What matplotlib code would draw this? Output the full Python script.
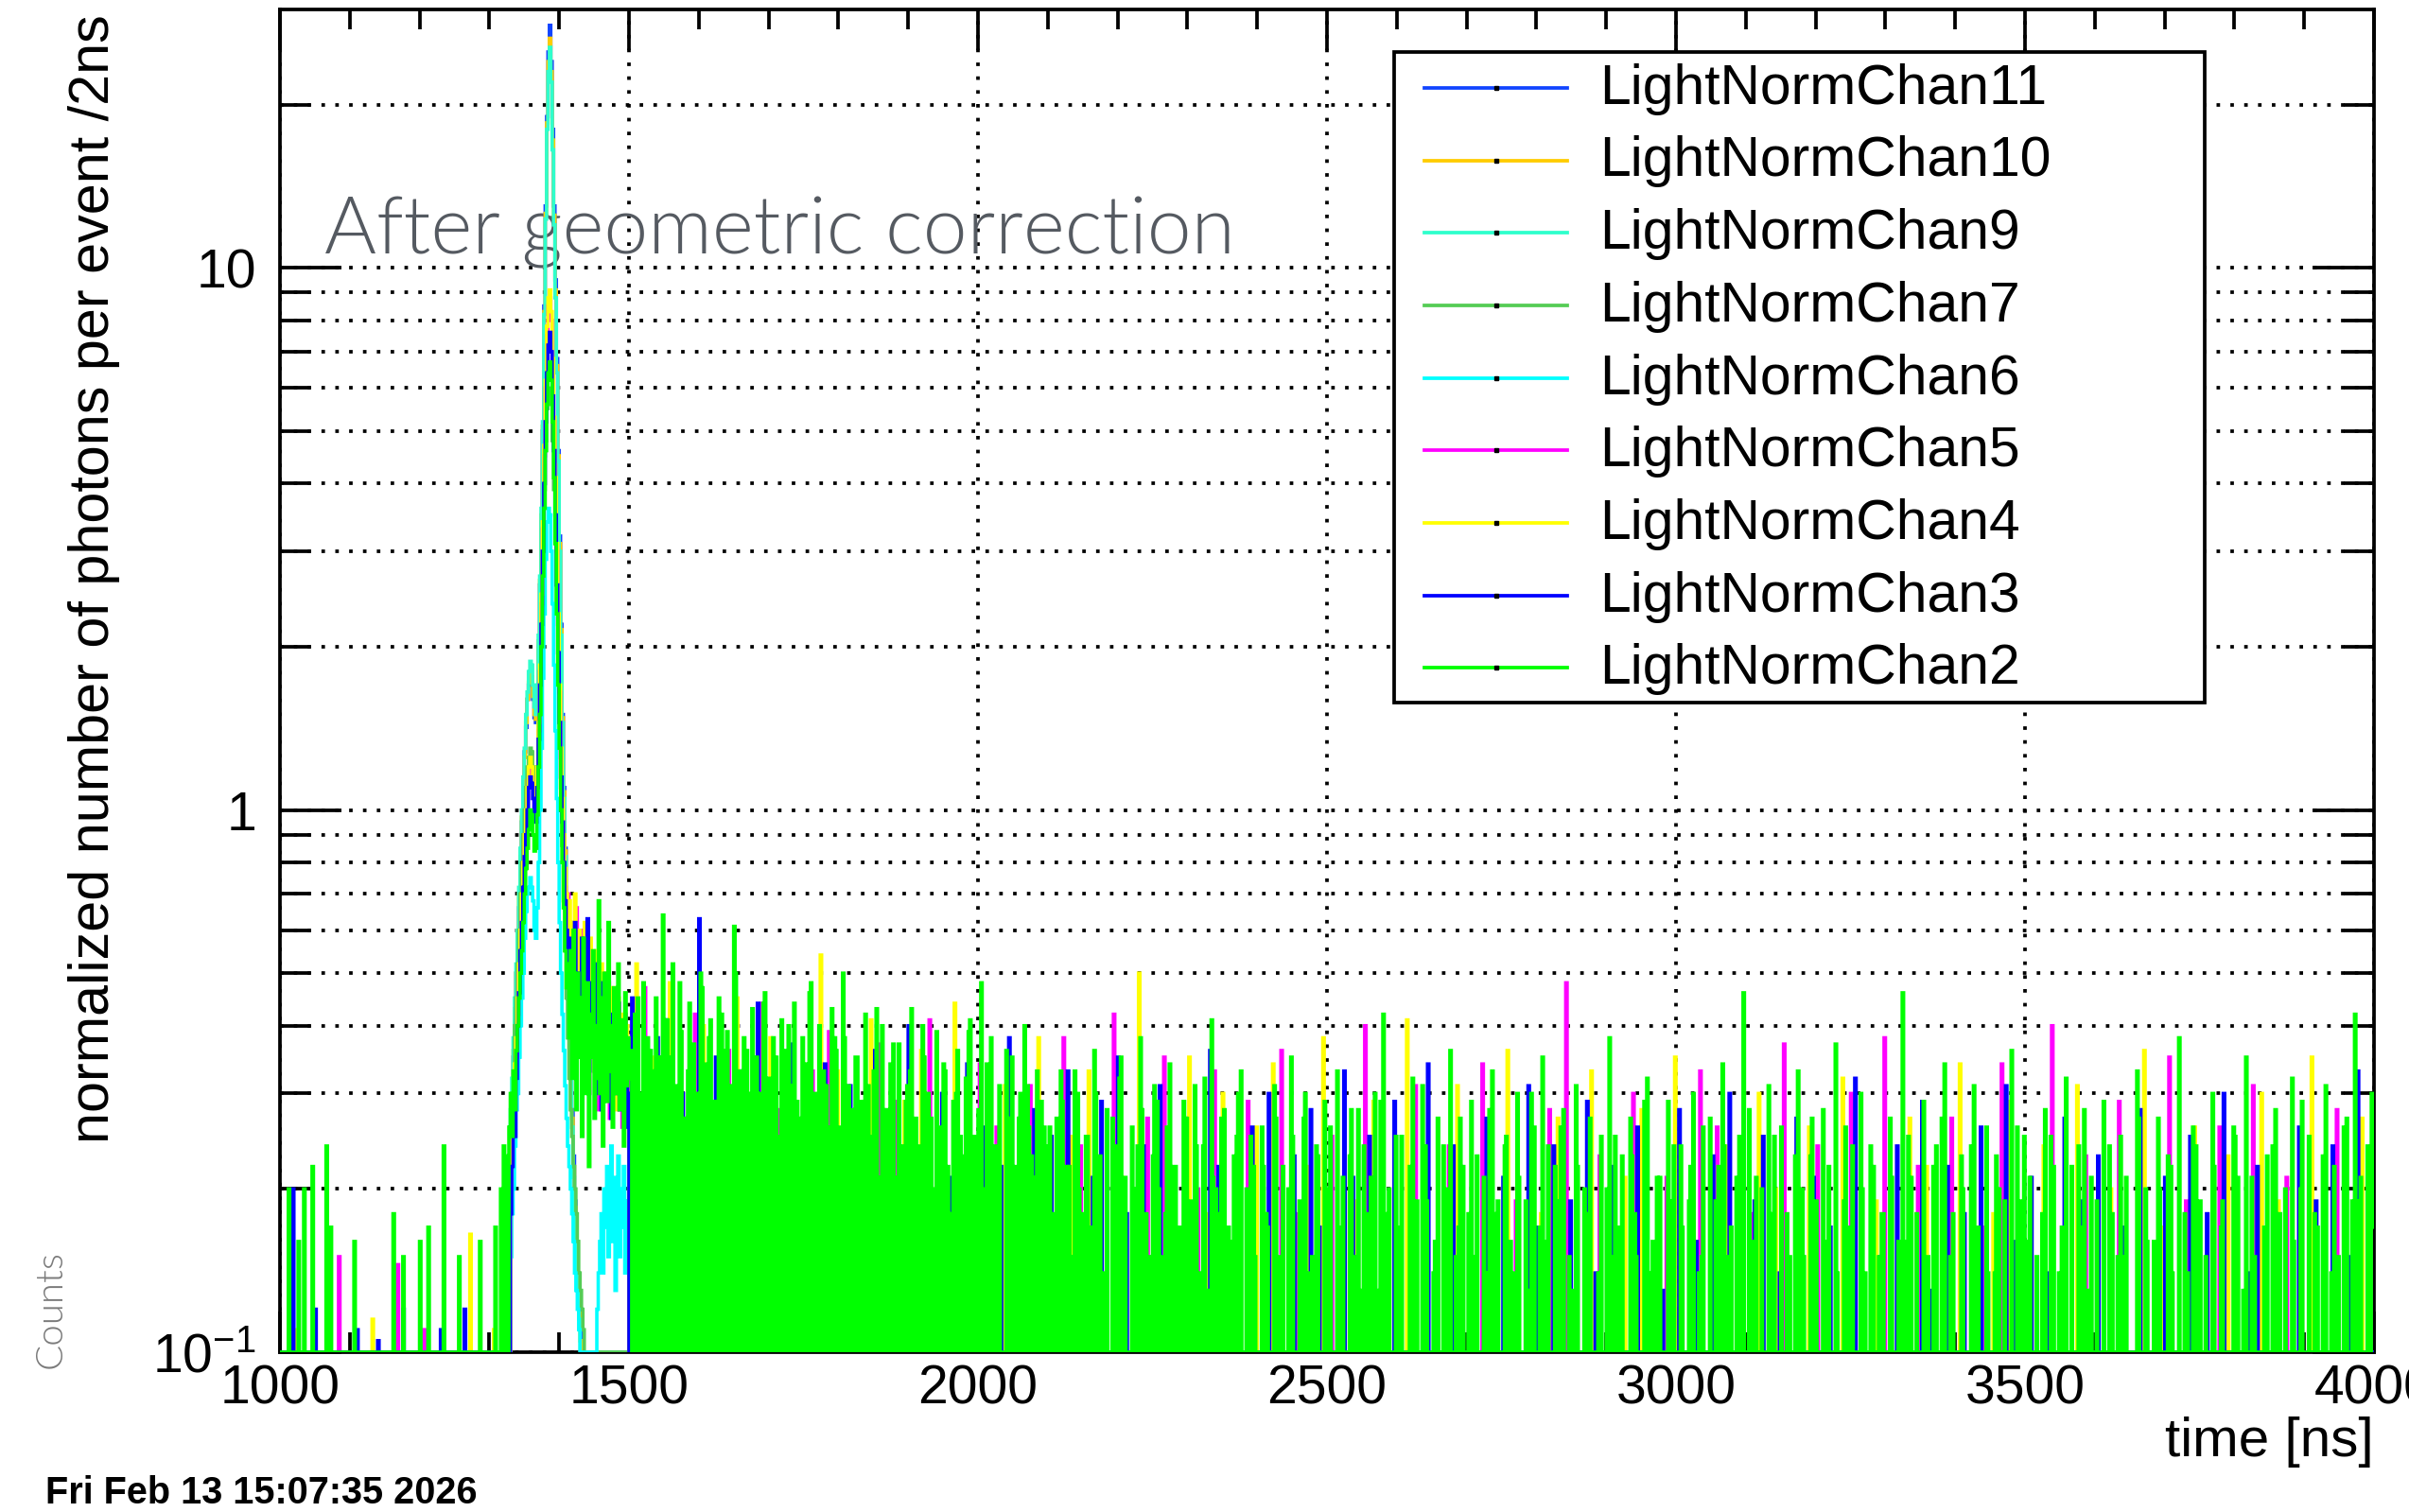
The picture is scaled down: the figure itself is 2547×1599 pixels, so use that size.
import numpy as np
import matplotlib
matplotlib.use("Agg")
import matplotlib.pyplot as plt
from matplotlib.lines import Line2D
from matplotlib.patches import Rectangle
from matplotlib.ticker import MultipleLocator, FixedLocator, FixedFormatter

plt.rcParams['font.family'] = ['Liberation Sans', 'DejaVu Sans']
plt.rcParams['mathtext.fontset'] = 'custom'
plt.rcParams['mathtext.rm'] = 'Liberation Sans'
plt.rcParams['mathtext.it'] = 'Liberation Sans:italic'
plt.rcParams['mathtext.bf'] = 'Liberation Sans:bold'

# =====================================================================================================================
# data: 2 ns bins from 1000 to 4000 ns, values = normalized photons per event

T_MIN, T_MAX, BIN_WIDTH = 1000.0, 4000.0, 2.0
PEAK_START = 1330.0
FLOOR = 0.1

CHANNELS = ["LightNormChan11", "LightNormChan10", "LightNormChan9", "LightNormChan7", "LightNormChan6",
            "LightNormChan5", "LightNormChan4", "LightNormChan3", "LightNormChan2"]
COLORS = ["#1144ff", "#ffcc00", "#2effcc", "#55cc55", "#00ffff", "#ff00ff", "#ffff00", "#0000ff", "#00ff00"]

# sparse hits before the prompt peak (ns, value)
CH2_PRE_T = [1012, 1026, 1034, 1047, 1066, 1073, 1106, 1163, 1177, 1200, 1213, 1234, 1256, 1286, 1308, 1316, 1320,
             1324, 1328]
CH2_PRE_V = [0.20, 0.16, 0.20, 0.22, 0.24, 0.17, 0.16, 0.18, 0.15, 0.16, 0.17, 0.24, 0.15, 0.16, 0.17, 0.20, 0.24,
             0.23, 0.26]
CH3_PRE_T = [1018, 1050, 1110, 1140, 1176, 1230, 1264]
CH3_PRE_V = [0.20, 0.12, 0.11, 0.105, 0.12, 0.11, 0.12]
CH4_PRE_T = [1024, 1132, 1272, 1306]
CH4_PRE_V = [0.11, 0.115, 0.165, 0.11]
CH5_PRE_T = [1084, 1168, 1206]
CH5_PRE_V = [0.15, 0.145, 0.11]

# prompt peak, 2 ns bins starting at 1330 ns
CH11_PEAK = [0.22, 0.30, 0.35, 0.41, 0.50, 0.58, 0.66, 0.80, 0.95, 1.10,
             1.28, 1.42, 1.60, 1.70, 1.78, 1.72, 1.60, 1.48, 1.45, 1.62,
             2.00, 2.60, 3.40, 5.00, 8.50, 13.0, 19.0, 25.0, 28.0, 24.0,
             18.0, 13.0, 9.50, 6.80, 4.60, 3.20, 2.20, 1.50, 1.10, 0.85,
             0.66, 0.52, 0.42, 0.34, 0.28, 0.23, 0.19, 0.16, 0.14, 0.12,
             0.11, 0.10, 0.09, 0.08, 0.07, 0.06, 0.05, 0.04, 0.03, 0.02]
CH10_PEAK = [0.25, 0.29, 0.36, 0.43, 0.50, 0.60, 0.70, 0.82, 0.97, 1.10,
             1.25, 1.45, 1.60, 1.72, 1.80, 1.76, 1.62, 1.50, 1.47, 1.66,
             2.05, 2.65, 3.50, 5.10, 8.30, 12.6, 18.5, 24.0, 26.5, 23.0,
             17.2, 12.5, 9.10, 6.60, 4.50, 3.10, 2.15, 1.48, 1.08, 0.84,
             0.65, 0.51, 0.41, 0.33, 0.27, 0.22, 0.185, 0.155, 0.135, 0.118,
             0.105, 0.095, 0.085, 0.075, 0.065, 0.055, 0.045, 0.035, 0.025, 0.015]
CH9_PEAK = [0.28, 0.32, 0.38, 0.45, 0.52, 0.60, 0.72, 0.85, 1.00, 1.15,
            1.30, 1.50, 1.65, 1.80, 1.88, 1.85, 1.70, 1.55, 1.50, 1.70,
            2.10, 2.70, 3.60, 5.20, 8.20, 12.3, 18.0, 23.0, 25.5, 22.0,
            16.5, 12.0, 8.80, 6.40, 4.40, 3.00, 2.10, 1.45, 1.05, 0.82,
            0.64, 0.50, 0.40, 0.32, 0.26, 0.21, 0.18, 0.15, 0.13, 0.115,
            0.10, 0.09, 0.08, 0.07, 0.06, 0.05, 0.04, 0.03, 0.02, 0.01]
CH7_PEAK = [0.25, 0.30, 0.28, 0.40, 0.45, 0.52, 0.60, 0.70, 0.80, 0.90,
            1.00, 1.10, 1.20, 1.25, 1.30, 1.28, 1.20, 1.10, 1.05, 1.20,
            1.45, 1.80, 2.30, 3.00, 3.90, 4.80, 5.50, 5.90, 6.00, 5.60,
            4.80, 3.90, 3.10, 2.40, 1.85, 1.40, 1.10, 0.86, 0.68, 0.55,
            0.45, 0.38, 0.32, 0.28, 0.25, 0.22, 0.20, 0.18, 0.16, 0.14,
            0.13, 0.12, 0.11, 0.10, 0.09, 0.08, 0.07, 0.06, 0.05, 0.04]
CH6_PEAK = [0.15, 0.18, 0.20, 0.24, 0.28, 0.30, 0.35, 0.40, 0.45, 0.50,
            0.58, 0.65, 0.70, 0.72, 0.75, 0.72, 0.68, 0.60, 0.58, 0.66,
            0.80, 1.00, 1.30, 1.75, 2.30, 2.90, 3.40, 3.60, 3.50, 3.00,
            2.40, 1.85, 1.40, 1.05, 0.80, 0.62, 0.50, 0.42, 0.36, 0.31,
            0.27, 0.24, 0.22, 0.20, 0.18, 0.16, 0.14, 0.13, 0.12, 0.11,
            0.10, 0.09, 0.08, 0.07, 0.06, 0.05, 0.04, 0.03, 0.04, 0.06,
            0.08, 0.10, 0.12, 0.14, 0.16, 0.18, 0.14, 0.20, 0.17, 0.22,
            0.15, 0.19, 0.24, 0.16, 0.21, 0.13, 0.18, 0.23, 0.15, 0.20,
            0.17, 0.22, 0.14, 0.19, 0.16]
CH5_PEAK = [0.20, 0.25, 0.30, 0.28, 0.35, 0.42, 0.50, 0.55, 0.65, 0.75,
            0.85, 0.95, 1.05, 1.15, 1.20, 1.18, 1.10, 1.00, 1.00, 1.15,
            1.40, 1.80, 2.40, 3.30, 4.50, 6.00, 7.50, 8.50, 8.80, 8.00,
            6.60, 5.20, 4.00, 3.00, 2.20, 1.65, 1.25, 1.00, 0.85, 0.72,
            0.66, 0.70, 0.55, 0.62, 0.48, 0.58, 0.42, 0.66, 0.50, 0.38,
            0.55, 0.44, 0.60, 0.36, 0.50, 0.42, 0.30, 0.55, 0.38, 0.47,
            0.33, 0.52, 0.40, 0.28, 0.45, 0.36, 0.50, 0.30, 0.42, 0.34,
            0.48, 0.27, 0.40, 0.35, 0.45, 0.29, 0.38, 0.44, 0.31, 0.40,
            0.26, 0.36, 0.42, 0.30, 0.38]
CH4_PEAK = [0.22, 0.26, 0.30, 0.34, 0.38, 0.45, 0.52, 0.60, 0.70, 0.80,
            0.90, 1.00, 1.10, 1.20, 1.25, 1.20, 1.12, 1.05, 1.02, 1.20,
            1.45, 1.85, 2.50, 3.40, 4.70, 6.20, 7.80, 8.80, 9.10, 8.30,
            6.80, 5.30, 4.10, 3.10, 2.30, 1.70, 1.30, 1.05, 0.90, 0.78,
            0.70, 0.60, 0.68, 0.50, 0.62, 0.45, 0.70, 0.52, 0.40, 0.60,
            0.48, 0.56, 0.38, 0.62, 0.45, 0.50, 0.35, 0.58, 0.42, 0.48,
            0.33, 0.55, 0.40, 0.46, 0.30, 0.52, 0.38, 0.44, 0.32, 0.50,
            0.36, 0.42, 0.30, 0.47, 0.35, 0.40, 0.28, 0.45, 0.33, 0.38,
            0.42, 0.30, 0.36, 0.40, 0.29]
CH3_PEAK = [0.18, 0.22, 0.27, 0.25, 0.32, 0.40, 0.46, 0.55, 0.62, 0.72,
            0.82, 0.90, 1.00, 1.10, 1.15, 1.12, 1.05, 0.95, 0.95, 1.10,
            1.35, 1.70, 2.20, 3.00, 4.00, 5.20, 6.40, 7.20, 7.60, 7.00,
            5.80, 4.60, 3.50, 2.60, 1.95, 1.45, 1.15, 0.95, 0.80, 0.68,
            0.60, 0.52, 0.58, 0.45, 0.54, 0.40, 0.62, 0.44, 0.36, 0.50,
            0.42, 0.58, 0.34, 0.46, 0.38, 0.63, 0.33, 0.48, 0.40, 0.36,
            0.52, 0.30, 0.44, 0.38, 0.48, 0.28, 0.40, 0.34, 0.45, 0.30,
            0.38, 0.42, 0.27, 0.36, 0.40, 0.30, 0.35, 0.44, 0.28, 0.38,
            0.32, 0.40, 0.26, 0.36, 0.30]
CH2_PEAK = [0.30, 0.25, 0.33, 0.28, 0.36, 0.40, 0.45, 0.50, 0.55, 0.62,
            0.70, 0.78, 0.85, 0.92, 1.00, 0.98, 0.90, 0.84, 0.85, 0.98,
            1.20, 1.50, 2.00, 2.70, 3.60, 4.60, 5.60, 6.40, 6.70, 6.20,
            5.20, 4.10, 3.10, 2.30, 1.70, 1.30, 1.00, 0.80, 0.66, 0.55,
            0.47, 0.52, 0.38, 0.55, 0.32, 0.60, 0.42, 0.28, 0.50, 0.35,
            0.45, 0.25, 0.58, 0.38, 0.30, 0.48, 0.22, 0.42, 0.35, 0.55,
            0.27, 0.40, 0.32, 0.68, 0.30, 0.45, 0.24, 0.50, 0.36, 0.29,
            0.62, 0.33, 0.40, 0.26, 0.47, 0.35, 0.30, 0.52, 0.28, 0.41,
            0.34, 0.24, 0.46, 0.31, 0.38]

# late light, single 2 ns bins on a coarser grid (values x100, 0 = empty bin)
CH2_TAIL_START, CH2_TAIL_STEP = 1500, 6
CH2_TAIL = [32, 18, 45, 22, 28, 36, 19, 35, 64, 41, 16, 29, 48, 21, 33, 17, 26, 50, 23, 38, 15, 27, 42, 20, 31,
            61, 18, 25, 36, 22, 14, 30, 44, 19, 27, 35, 16, 24, 40, 21, 29, 17, 33, 46, 20, 26, 0, 31, 22, 38,
            24, 50, 19, 28, 35, 16, 0, 31, 22, 43, 18, 26, 14, 37, 21, 0, 29, 33, 17, 24, 40, 15, 27, 20, 0,
            34, 22, 18, 30, 25, 13, 39, 21, 0, 48, 16, 32, 24, 19, 0, 36, 22, 15, 27, 18, 31, 23, 20, 0, 26,
            19, 0, 27, 33, 15, 22, 0, 30, 18, 25, 0, 36, 21, 14, 28, 0, 24, 32, 17, 0, 26, 20, 38, 0, 15,
            23, 29, 0, 18, 34, 22, 0, 16, 27, 19, 31, 0, 24, 13, 41, 20, 0, 28, 17, 0, 25, 33, 0, 19, 22,
            0, 26, 18, 0, 31, 14, 22, 0, 35, 0, 19, 27, 0, 15, 24, 0, 29, 20, 0, 33, 17, 0, 23, 0, 28,
            13, 0, 21, 30, 0, 42, 18, 0, 25, 16, 0, 0, 32, 19, 0, 24, 0, 14, 27, 0, 20, 36, 0, 17, 22,
            0, 29, 15, 0, 21, 0, 33, 18, 0, 24, 0, 14, 30, 0, 19, 0, 26, 0, 35, 16, 0, 22, 0, 28, 0,
            13, 31, 0, 20, 17, 0, 0, 25, 0, 38, 15, 0, 23, 0, 27, 18, 0, 0, 32, 14, 0, 21, 0, 29, 16,
            0, 24, 0, 19, 30, 0, 15, 0, 27, 0, 22, 34, 0, 17, 0, 25, 46, 0, 14, 21, 0, 0, 31, 18, 0,
            26, 0, 15, 0, 33, 20, 0, 23, 0, 0, 28, 16, 0, 37, 0, 19, 0, 24, 0, 30, 14, 0, 22, 0, 18,
            0, 27, 0, 16, 46, 0, 21, 0, 0, 29, 15, 0, 24, 0, 34, 0, 18, 0, 23, 0, 0, 31, 17, 0, 26,
            0, 14, 20, 0, 0, 36, 0, 19, 25, 0, 0, 15, 0, 28, 0, 22, 0, 17, 32, 0, 0, 24, 0, 13, 21,
            0, 0, 29, 0, 18, 0, 25, 15, 0, 0, 33, 0, 20, 0, 16, 27, 0, 0, 22, 0, 38, 0, 14, 0, 24,
            19, 0, 0, 30, 0, 17, 0, 0, 26, 21, 0, 35, 0, 15, 0, 0, 23, 0, 28, 18, 0, 0, 32, 0, 20,
            0, 25, 0, 17, 0, 31, 0, 22, 15, 0, 27, 0, 42, 19, 0, 24, 30]
CH2_TAIL_B_START, CH2_TAIL_B_STEP = 1502, 6
CH2_TAIL_B = [36, 42, 30, 48, 38, 33, 45, 28, 40, 35, 52, 31, 39, 27, 44, 37, 30, 47, 34, 41, 29, 45, 36, 39, 26,
              50, 33, 38, 30, 43, 35, 28, 46, 32, 38, 25, 41, 36, 31, 44, 27, 38, 34, 48, 30, 40, 33, 26, 43, 36,
              26, 38, 31, 23, 35, 29, 42, 25, 33, 21, 40, 28, 34, 0, 37, 24, 31, 43, 27, 22, 35, 30, 19, 39, 26,
              33, 0, 29, 36, 23, 32, 41, 25, 28, 20, 34, 38, 24, 31, 0, 27, 35, 22, 30, 40, 26, 21, 33, 29, 24,
              26, 18, 0, 29, 22, 15, 33, 20, 0, 25, 17, 30, 23, 14, 0, 27, 19, 35, 21, 0, 16, 24, 28, 18, 0,
              31, 20, 15, 26, 0, 22, 17, 29, 0, 19, 24, 14, 32, 0, 21, 18, 27, 0, 16, 23, 30, 0, 20, 25, 15,
              0, 22, 17, 0, 27, 15, 0, 20, 25, 0, 18, 30, 14, 0, 23, 0, 19, 26, 0, 16, 21, 0, 28, 15, 0,
              24, 18, 0, 13, 29, 0, 20, 0, 17, 25, 0, 22, 14, 0, 31, 19, 0, 16, 0, 24, 20, 0, 15, 27, 0,
              18, 0, 23, 0, 14, 28, 0, 19, 0, 25, 16, 0, 21, 0, 13, 30, 0, 17, 0, 24, 0, 19, 26, 0, 15,
              0, 22, 0, 18, 27, 0, 14, 0, 20, 0, 25, 17, 0, 0, 23, 15, 0, 29, 0, 16, 21, 0, 0, 19, 24,
              0, 17, 0, 22, 0, 14, 26, 0, 0, 19, 0, 24, 15, 0, 21, 0, 0, 28, 16, 0, 20, 0, 13, 25, 0,
              0, 18, 0, 23, 0, 15, 0, 27, 19, 0, 0, 22, 0, 14, 0, 26, 17, 0, 0, 20, 0, 24, 0, 15, 18,
              0, 21, 0, 0, 16, 25, 0, 18, 0, 13, 0, 22, 0, 27, 0, 15, 0, 0, 20, 0, 24, 17, 0, 0, 14,
              0, 23, 0, 19, 0, 0, 26, 0, 16, 21, 0, 0, 18, 0, 25, 0, 14, 0, 0, 22, 0, 17, 28, 0, 0,
              19, 0, 0, 24, 0, 15, 0, 21, 0, 0, 27, 0, 16, 0, 0, 20, 0, 23, 14, 0, 0, 18, 0, 26, 0,
              0, 15, 0, 22, 0, 19, 0, 0, 25, 0, 13, 0, 21, 0, 0, 17, 0, 24, 0, 0, 20, 0, 16, 0, 29,
              0, 0, 18, 0, 23, 0, 14, 0, 0, 26, 0, 19, 0, 21, 0, 0, 17]
CH3_TAIL_START, CH3_TAIL_STEP = 1504, 12
CH3_TAIL = [45, 28, 0, 38, 41, 22, 30, 0, 63, 19, 35, 26, 0, 33, 18, 44, 24, 0, 29, 37, 21, 0, 27, 34, 16,
            0, 31, 22, 0, 36, 18, 27, 0, 40, 15, 24, 0, 30, 21, 0, 34, 17, 26, 0, 22, 38, 0, 19, 28, 0,
            25, 0, 33, 16, 0, 21, 29, 0, 35, 18, 0, 24, 0, 31, 20, 0, 27, 15, 0, 36, 22, 0, 18, 0, 26,
            0, 30, 14, 0, 23, 0, 28, 17, 0, 0, 33, 21, 0, 25, 0, 16, 29, 0, 20, 0, 34, 0, 18, 24, 0,
            15, 0, 27, 0, 21, 0, 0, 31, 17, 0, 24, 0, 19, 0, 29, 14, 0, 22, 0, 0, 26, 18, 0, 13, 0,
            28, 0, 16, 0, 23, 0, 30, 0, 0, 19, 25, 0, 14, 0, 27, 0, 21, 0, 17, 0, 0, 32, 0, 20, 15,
            0, 24, 0, 0, 29, 13, 0, 22, 0, 18, 0, 26, 0, 0, 31, 16, 0, 21, 0, 14, 0, 27, 0, 19, 0,
            23, 0, 0, 17, 0, 28, 0, 15, 21, 0, 0, 25, 0, 18, 0, 30, 0, 0, 14, 22, 0, 16, 0, 0, 26,
            0, 19, 0, 24, 0, 15, 33, 0, 21]
CH4_TAIL_START, CH4_TAIL_STEP = 1510, 24
CH4_TAIL = [52, 35, 48, 27, 40, 22, 45, 30, 38, 0, 26, 54,
            33, 24, 41, 0, 29, 36, 19, 44, 0, 27, 31, 22,
            38, 0, 25, 33, 0, 21, 50, 28, 0, 35, 18, 30,
            0, 26, 34, 0, 22, 38, 0, 19, 29, 0, 41, 24,
            0, 31, 0, 23, 36, 0, 18, 27, 0, 33, 0, 21,
            28, 0, 35, 17, 0, 24, 0, 30, 20, 0, 26, 0,
            32, 0, 19, 0, 27, 22, 0, 34, 0, 18, 29, 0,
            24, 0, 31, 0, 20, 0, 36, 17, 0, 26, 0, 23,
            0, 30, 19, 0, 35, 0, 22, 27]
CH5_TAIL_START, CH5_TAIL_STEP = 1522, 24
CH5_TAIL = [47, 30, 0, 42, 25, 36, 0, 44, 28, 0, 33, 39,
            22, 0, 37, 29, 0, 41, 19, 0, 34, 26, 0, 31,
            0, 38, 24, 0, 42, 0, 27, 35, 0, 20, 33, 0,
            29, 0, 36, 18, 0, 25, 0, 40, 22, 0, 31, 0,
            24, 0, 34, 0, 19, 0, 28, 48, 0, 23, 0, 30,
            0, 21, 0, 33, 26, 0, 18, 0, 37, 0, 24, 0,
            30, 0, 38, 0, 22, 0, 27, 0, 17, 34, 0, 0,
            40, 0, 23, 0, 29, 0, 0, 35, 19, 0, 26, 0,
            31, 0, 21, 0, 0, 28, 0, 24]
CH6_TAIL_START, CH6_TAIL_STEP = 1508, 12
CH6_TAIL = [24, 18, 21, 15, 0, 19, 13, 0, 17, 0, 14, 0, 0, 12, 0, 16, 0]

# =====================================================================================================================

edges = np.arange(T_MIN, T_MAX + BIN_WIDTH / 2, BIN_WIDTH)
n_bins = len(edges) - 1


def to_bin(times):
    return ((np.asarray(times, dtype=float) - T_MIN) // BIN_WIDTH).astype(int)


def build_hist(peak, pre_t=(), pre_v=(), tails=()):
    h = np.zeros(n_bins)
    if len(pre_t):
        h[to_bin(pre_t)] = pre_v
    i0 = to_bin([PEAK_START])[0]
    h[i0:i0 + len(peak)] = peak
    for tail, start, step in tails:
        idx = to_bin(start + step * np.arange(len(tail)))
        ok = idx < n_bins
        h[idx[ok]] = np.asarray(tail, dtype=float)[ok] / 100.0
    return np.clip(h, FLOOR, None)


hists = [
    build_hist(CH11_PEAK),
    build_hist(CH10_PEAK),
    build_hist(CH9_PEAK),
    build_hist(CH7_PEAK),
    build_hist(CH6_PEAK, tails=[(CH6_TAIL, CH6_TAIL_START, CH6_TAIL_STEP)]),
    build_hist(CH5_PEAK, CH5_PRE_T, CH5_PRE_V, [(CH5_TAIL, CH5_TAIL_START, CH5_TAIL_STEP)]),
    build_hist(CH4_PEAK, CH4_PRE_T, CH4_PRE_V, [(CH4_TAIL, CH4_TAIL_START, CH4_TAIL_STEP)]),
    build_hist(CH3_PEAK, CH3_PRE_T, CH3_PRE_V, [(CH3_TAIL, CH3_TAIL_START, CH3_TAIL_STEP)]),
    build_hist(CH2_PEAK, CH2_PRE_T, CH2_PRE_V, [(CH2_TAIL, CH2_TAIL_START, CH2_TAIL_STEP),
                                                (CH2_TAIL_B, CH2_TAIL_B_START, CH2_TAIL_B_STEP)]),
]

# =====================================================================================================================

fig = plt.figure(figsize=(25.47, 15.99), dpi=100)
ax = fig.add_axes([0.1162, 0.1057, 0.8693, 0.8883])

for h, c in zip(hists, COLORS):
    ax.stairs(h, edges, baseline=None, color=c, lw=2.6, zorder=3)

ax.set_yscale("log")
ax.set_xlim(T_MIN, T_MAX)
ax.set_ylim(0.1, 30)

ax.xaxis.set_major_locator(MultipleLocator(500))
ax.xaxis.set_minor_locator(MultipleLocator(100))
ax.yaxis.set_major_locator(FixedLocator([0.1, 1, 10]))
ax.yaxis.set_major_formatter(FixedFormatter([r"$10^{-1}$", "1", "10"]))
ax.yaxis.set_minor_locator(FixedLocator([0.2, 0.3, 0.4, 0.5, 0.6, 0.7, 0.8, 0.9,
                                         2, 3, 4, 5, 6, 7, 8, 9, 20]))
ax.yaxis.set_minor_formatter(FixedFormatter([""] * 17))

ax.tick_params(axis="both", which="both", direction="in", top=True, right=True, width=2.7, labelsize=41)
ax.tick_params(axis="y", which="major", length=47, pad=18)
ax.tick_params(axis="y", which="minor", length=23)
ax.tick_params(axis="x", which="major", length=31, pad=9)
ax.tick_params(axis="x", which="minor", length=15)

for sp in ax.spines.values():
    sp.set_linewidth(2.7)

ax.set_axisbelow(True)
ax.grid(True, axis="x", which="major", color="k", lw=2.7, linestyle=(0, (1, 2.9)))
ax.grid(True, axis="y", which="both", color="k", lw=2.7, linestyle=(0, (1, 2.9)))

ax.text(0.0212, 0.818, "After geometric correction", transform=ax.transAxes, fontsize=60.5,
        family=["Lato", "Roboto", "DejaVu Sans"], fontweight=300, color="#555a61", va="baseline", zorder=1)

# axis titles, ROOT style
fig.text(0.0452, 0.9906, "normalized number of photons per event /2ns", rotation=90, rotation_mode="anchor",
         ha="right", va="baseline", fontsize=42.7)
fig.text(0.9855, 0.037, "time [ns]", ha="right", va="baseline", fontsize=42)
fig.text(0.021, 0.134, "Counts", rotation=90, ha="center", va="center", fontsize=29,
         family=["Lato", "Roboto", "DejaVu Sans"], fontweight=300, color="#7a7a7a")
fig.text(0.0189, 0.0057, "Fri Feb 13 15:07:35 2026", ha="left", va="baseline", fontsize=28.5, fontweight="bold")

# legend box
W, H = 2547.0, 1599.0
fig.add_artist(Rectangle((1474 / W, 1 - 743 / H), (2331 - 1474) / W, (743 - 55) / H, transform=fig.transFigure,
                         facecolor="white", edgecolor="black", lw=2.7, zorder=10))
for i, (name, c) in enumerate(zip(CHANNELS, COLORS)):
    y = 92.8 + 76.7 * i
    fig.add_artist(Line2D([1506 / W, 1657 / W], [1 - y / H, 1 - y / H], transform=fig.transFigure,
                          color=c, lw=2.7, zorder=11))
    fig.add_artist(Line2D([1582 / W], [1 - y / H], transform=fig.transFigure, marker="s", ms=2.4,
                          color="k", lw=0, zorder=12))
    fig.text(1691 / W, 1 - (y + 17) / H, name, ha="left", va="baseline", fontsize=42.3, zorder=12)

fig.savefig("out.png", dpi=100)
